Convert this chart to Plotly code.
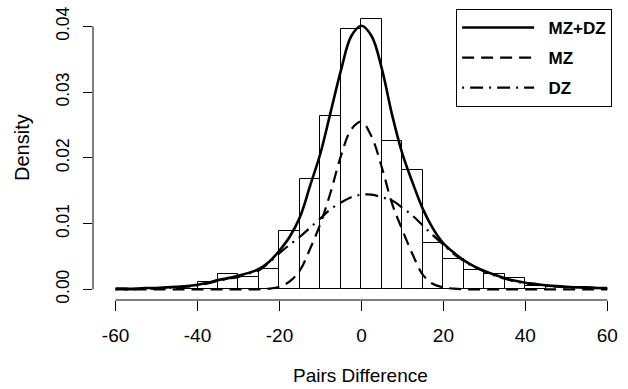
import plotly.graph_objects as go

# Histogram (bin left edges, width 5) and densities
bin_left = [-45, -40, -35, -30, -25, -20, -15, -10, -5, 0, 5, 10, 15, 20, 25, 30, 35, 40]
bin_density = [0.0000, 0.0011, 0.0023, 0.0019, 0.0031, 0.0088, 0.0168, 0.0264, 0.0396,
               0.0412, 0.0226, 0.0182, 0.0071, 0.0046, 0.0029, 0.0023, 0.0017, 0.0005]
bin_width = 5

# Curve evaluation grid
curve_x = [-60, -57.5, -55, -52.5, -50, -47.5, -45, -42.5, -40, -37.5, -35, -32.5, -30,
           -27.5, -25, -22.5, -20, -17.5, -15, -12.5, -10, -7.5, -5, -2.5, 0,
           2.5, 5, 7.5, 10, 12.5, 15, 17.5, 20, 22.5, 25, 27.5, 30, 32.5, 35,
           37.5, 40, 42.5, 45, 47.5, 50, 52.5, 55, 57.5, 60]

mzdz = [0.0001, 0.0001, 0.0001, 0.0002, 0.0002, 0.0003, 0.0004, 0.0005, 0.0007, 0.0010,
        0.0014, 0.0017, 0.0021, 0.0025, 0.0031, 0.0042, 0.0059, 0.0080, 0.0110, 0.0158,
        0.0207, 0.0270, 0.0333, 0.0385, 0.0401,
        0.0385, 0.0335, 0.0265, 0.0206, 0.0162, 0.0122, 0.0092, 0.0070, 0.0056, 0.0044,
        0.0035, 0.0028, 0.0022, 0.0017, 0.0013, 0.0010, 0.0008, 0.0006, 0.0005, 0.0004,
        0.0003, 0.0003, 0.0002, 0.0002]

mz = [0, 0, 0, 0, 0, 0, 0, 0, 0, 0,
      0, 0, 0, 0, 0, 0.0001, 0.0004, 0.0012, 0.0029, 0.0062,
      0.0100, 0.0148, 0.0203, 0.0243, 0.0255,
      0.0232, 0.0185, 0.0130, 0.0090, 0.0053, 0.0022, 0.0008, 0.0003, 0.0001, 0,
      0, 0, 0, 0, 0, 0, 0, 0, 0, 0,
      0, 0, 0, 0]

dz = [0.0000, 0.0000, 0.0000, 0.0001, 0.0001, 0.0002, 0.0003, 0.0004, 0.0006, 0.0009,
      0.0013, 0.0016, 0.0019, 0.0024, 0.0029, 0.0041, 0.0055, 0.0068, 0.0080, 0.0094,
      0.0108, 0.0122, 0.0132, 0.0140, 0.0144,
      0.0144, 0.0140, 0.0135, 0.0124, 0.0112, 0.0097, 0.0082, 0.0068, 0.0054, 0.0043,
      0.0034, 0.0027, 0.0021, 0.0016, 0.0012, 0.0009, 0.0007, 0.0005, 0.0004, 0.0003,
      0.0003, 0.0002, 0.0002, 0.0001]

series_names = ["MZ+DZ", "MZ", "DZ"]

x_ticks = [-60, -40, -20, 0, 20, 40, 60]
x_ticktext = ["-60", "-40", "-20", "0", "20", "40", "60"]
y_ticks = [0.00, 0.01, 0.02, 0.03, 0.04]
y_ticktext = ["0.00", "0.01", "0.02", "0.03", "0.04"]

FONT = "Liberation Sans, Arial, sans-serif"
PAD = "\u00a0\u00a0"

fig = go.Figure()

fig.add_trace(go.Bar(
    x=[b + bin_width / 2 for b in bin_left], y=bin_density, width=bin_width,
    marker=dict(color="white", line=dict(color="black", width=1)),
    showlegend=False, hoverinfo="skip"))

fig.add_trace(go.Scatter(x=curve_x, y=mzdz, mode="lines", name=PAD + series_names[0],
                         line=dict(color="black", width=2.6, shape="spline"),
                         legendgroup="a"))
fig.add_trace(go.Scatter(x=curve_x, y=mz, mode="lines", name=PAD + series_names[1],
                         line=dict(color="black", width=2.2, dash="12px,7px", shape="spline"),
                         legendgroup="b"))
fig.add_trace(go.Scatter(x=curve_x, y=dz, mode="lines", name=PAD + series_names[2],
                         line=dict(color="black", width=2.2, dash="2px,6px,13px,6px", shape="spline"),
                         legendgroup="c"))

# R-style axis lines spanning first to last tick
fig.add_shape(type="line", xref="x", yref="paper", x0=x_ticks[0], x1=x_ticks[-1], y0=0, y1=0,
              line=dict(color="black", width=1))
fig.add_shape(type="line", xref="paper", yref="y", x0=0, x1=0, y0=y_ticks[0], y1=y_ticks[-1],
              line=dict(color="black", width=1))

fig.add_annotation(text="Pairs Difference", xref="paper", yref="paper", x=0.5, y=-0.257,
                   xanchor="center", yanchor="middle", showarrow=False,
                   font=dict(family=FONT, size=19, color="black"))
fig.add_annotation(text="Density", xref="paper", yref="paper", x=-0.133, y=0.524,
                   xanchor="center", yanchor="middle", showarrow=False, textangle=-90,
                   font=dict(family=FONT, size=20, color="black"))

fig.update_layout(
    width=628, height=389,
    margin=dict(l=93, r=1, t=8, b=89, autoexpand=False),
    paper_bgcolor="white", plot_bgcolor="white",
    bargap=0,
    font=dict(family=FONT, color="black"),
    xaxis=dict(range=[-65.5, 64.8], tickvals=x_ticks, ticktext=x_ticktext,
               ticks="outside", ticklen=10, automargin=False,
               tickcolor="black", showgrid=False, zeroline=False, showline=False,
               tickfont=dict(family=FONT, size=19, color="black"), ticklabelstandoff=8),
    yaxis=dict(range=[-0.001626, 0.0428], tickvals=y_ticks, ticktext=y_ticktext,
               ticks="outside", ticklen=9, tickcolor="black", showgrid=False, automargin=False,
               zeroline=False, showline=False, tickangle=-90,
               tickfont=dict(family=FONT, size=17.5, color="black"), ticklabelstandoff=7),
    legend=dict(x=0.680, y=0.997, xanchor="left", yanchor="top",
                bordercolor="black", borderwidth=1, bgcolor="white",
                font=dict(family=FONT, size=17, color="black", weight="bold"),
                tracegroupgap=5, itemwidth=72, traceorder="grouped"),
)

fig.write_html("out.html", config={"displayModeBar": False},
               post_script="document.body.style.margin='0';document.body.style.overflow='hidden';")
